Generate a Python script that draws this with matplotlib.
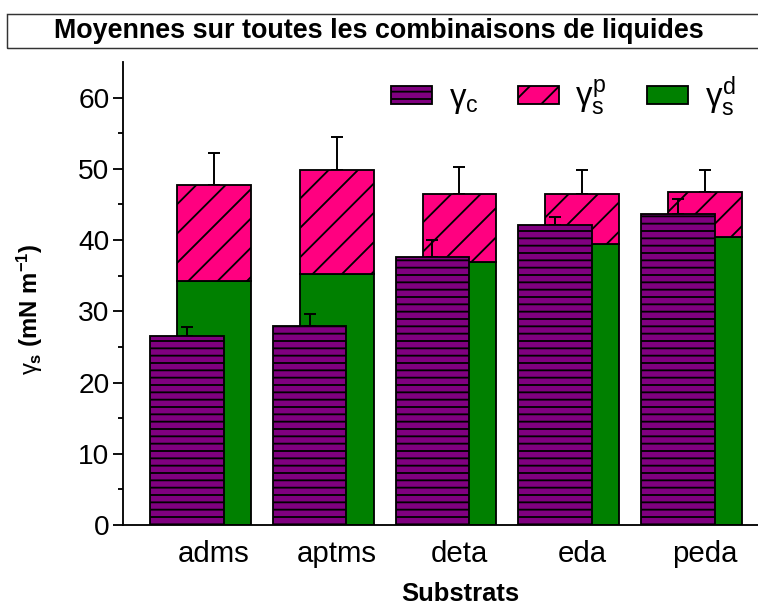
import matplotlib
matplotlib.use("Agg")
import matplotlib.pyplot as plt
import numpy as np
from matplotlib.patches import Rectangle

# surface energy components per substrate (mN/m)
categories = ["adms", "aptms", "deta", "eda", "peda"]
gamma_c = [26.5, 28.0, 37.6, 42.1, 43.6]
gamma_c_err = [1.3, 1.6, 2.4, 1.1, 2.1]
gamma_d = [34.3, 35.2, 36.9, 39.4, 40.5]
gamma_total = [47.8, 49.8, 46.5, 46.5, 46.7]
gamma_total_err = [4.4, 4.7, 3.7, 3.4, 3.2]

PURPLE = "#800080"
PINK = "#ff0080"
GREEN = "#008000"

DPI = 88
plt.rcParams["font.family"] = ["Liberation Sans", "DejaVu Sans"]
plt.rcParams["mathtext.fontset"] = "custom"
plt.rcParams["mathtext.rm"] = "Liberation Sans"
plt.rcParams["mathtext.it"] = "Liberation Sans"
plt.rcParams["mathtext.bf"] = "Liberation Sans:bold"
plt.rcParams["hatch.linewidth"] = 1.5

fig = plt.figure(figsize=(758 / DPI, 607 / DPI), dpi=DPI)
ax = fig.add_axes([123 / 758, 1 - 525 / 607, 1 - 123 / 758, (525 - 62) / 607])

x = np.arange(1, len(categories) + 1)
gamma_p = np.array(gamma_total) - np.array(gamma_d)
w = 0.6
shift = 0.22

ax.bar(x, gamma_d, w, color=GREEN, edgecolor="black", lw=1.5, label=r"$\gamma_s^d$", zorder=2)
ax.bar(x, gamma_p, w, bottom=gamma_d, color=PINK, edgecolor="black", lw=1.5,
       hatch="/", label=r"$\gamma_s^p$", zorder=2)
ax.errorbar(x, gamma_total, yerr=[np.zeros(len(x)), gamma_total_err], fmt="none",
            ecolor="black", elinewidth=1.6, capsize=5, capthick=1.6, zorder=1)

ax.bar(x - shift, gamma_c, w, color=PURPLE, edgecolor="black", lw=1.5,
       hatch="--", label=r"$\gamma_c$", zorder=4)
ax.errorbar(x - shift, gamma_c, yerr=[np.zeros(len(x)), gamma_c_err], fmt="none",
            ecolor="black", elinewidth=1.6, capsize=5, capthick=1.6, zorder=3)

ax.set_xlim(1 - 91 / 123, 5 + 53 / 123)
ax.set_ylim(0, 65)
ax.set_yticks(range(0, 61, 10))
ax.set_yticks(range(5, 65, 10), minor=True)
ax.set_xticks(x)
ax.set_xticklabels(categories)
ax.tick_params(axis="x", length=0, pad=12, labelsize=24)
ax.tick_params(axis="y", which="major", length=8, width=1.5, labelsize=23, pad=3)
ax.tick_params(axis="y", which="minor", length=4, width=1.5)
for side in ["top", "right"]:
    ax.spines[side].set_visible(False)
for side in ["left", "bottom"]:
    ax.spines[side].set_linewidth(1.5)

handles, labels = ax.get_legend_handles_labels()
order = [2, 1, 0]
ax.legend([handles[i] for i in order], [labels[i] for i in order], ncol=3,
          frameon=False, fontsize=27, handlelength=1.25, handleheight=0.45,
          columnspacing=1.2, handletextpad=0.5, loc="center left",
          bbox_to_anchor=(0.375, 0.925))

fig.text(30 / 758, 1 - 309 / 607, r"$\gamma_\mathbf{s}$ (mN m$^\mathbf{-1}$)",
         rotation=90, ha="center", va="center", fontsize=19.5, fontweight="bold")
fig.text(0.607, 1 - 594 / 607, "Substrats", ha="center", va="center",
         fontsize=21, fontweight="bold")

# boxed title strip
fig.patches.append(Rectangle((7 / 758, 1 - 48 / 607), 1.0, 34 / 607,
                             transform=fig.transFigure, fill=False,
                             edgecolor="#333333", lw=1.2))
fig.text(0.5, 1 - 31 / 607, "Moyennes sur toutes les combinaisons de liquides",
         ha="center", va="center", fontsize=22, fontweight="bold")

fig.savefig("out.png", dpi=DPI)
